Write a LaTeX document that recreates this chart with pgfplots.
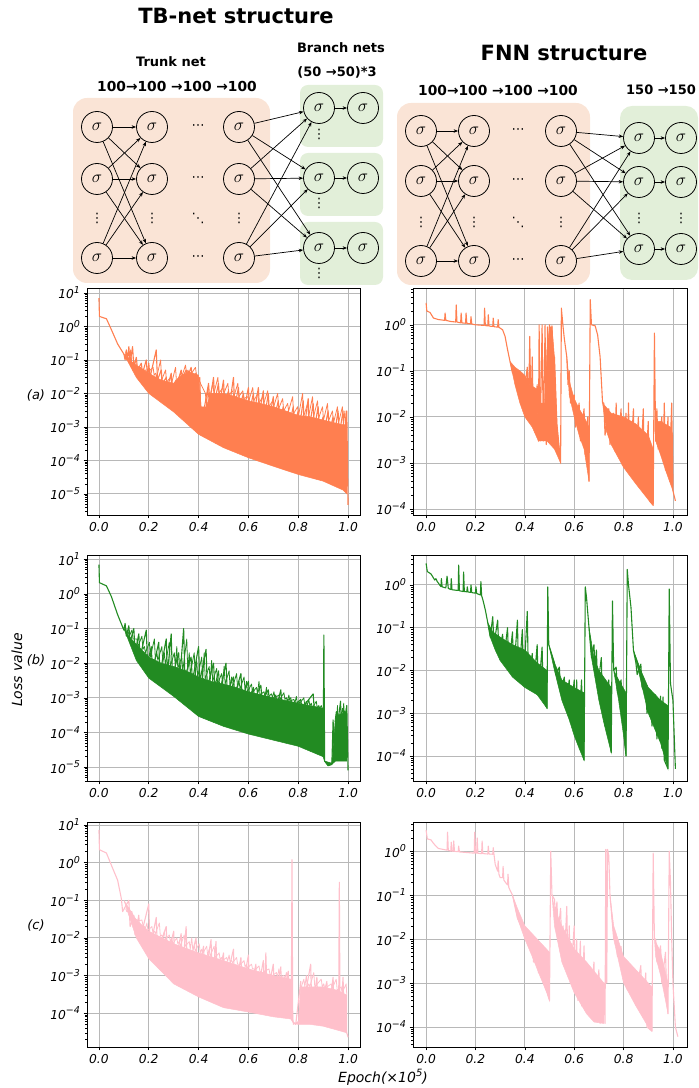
\documentclass[border=0pt]{standalone}
\usepackage{fontspec}
\setmainfont{DejaVu Sans}
\usepackage{pgfplots}
\pgfplotsset{compat=1.18}
\usetikzlibrary{arrows.meta}
\definecolor{cOr}{RGB}{255,127,80}
\definecolor{cGr}{RGB}{34,139,34}
\definecolor{cPk}{RGB}{255,192,203}
\definecolor{boxO}{RGB}{250,228,214}
\definecolor{boxG}{RGB}{226,239,217}
\newcommand{\te}[1]{\textit{10\raisebox{0.42em}{\fontsize{9.5}{9.5}\selectfont\itshape #1}}}
\newcommand{\minL}{2e-6,3e-6,4e-6,5e-6,6e-6,7e-6,8e-6,9e-6,2e-5,3e-5,4e-5,5e-5,6e-5,7e-5,8e-5,9e-5,2e-4,3e-4,4e-4,5e-4,6e-4,7e-4,8e-4,9e-4,0.002,0.003,0.004,0.005,0.006,0.007,0.008,0.009,0.02,0.03,0.04,0.05,0.06,0.07,0.08,0.09,0.2,0.3,0.4,0.5,0.6,0.7,0.8,0.9,2,3,4,5,6,7,8,9,20}
\tikzset{myln/.style={line width=1.1pt, line join=round, mark=none},
  myln2/.style={line width=0.8pt, line join=round, mark=none},
  mybd/.style={line width=0.5pt, mark=none}}
\begin{document}
\begin{tikzpicture}[x=1pt,y=1pt]
\useasboundingbox (0,0) rectangle (699,1088);
% ---------------- diagrams ----------------
\begin{scope}[yshift=1088pt, y=-1pt,
  neu/.style={circle, draw, line width=0.8pt, minimum size=31pt, inner sep=0pt, font=\fontsize{16}{16}\selectfont},
  arr/.style={-{Stealth[length=4.5pt,width=3.5pt]}, line width=0.7pt},
  dt/.style={font=\fontsize{13}{13}\selectfont, inner sep=0pt}]
\fill[boxO, rounded corners=14pt] (73,98) rectangle (270,283);
\fill[boxG, rounded corners=8pt] (300,85) rectangle (383,147);
\fill[boxG, rounded corners=8pt] (300,153) rectangle (383,216);
\fill[boxG, rounded corners=8pt] (300,222) rectangle (383,285);
\fill[boxO, rounded corners=14pt] (397,103) rectangle (590,285);
\fill[boxG, rounded corners=12pt] (620,106) rectangle (698,280);
\node[font=\bfseries\fontsize{21}{21}\selectfont] at (236,16) {TB-net structure};
\node[font=\bfseries\fontsize{13}{13}\selectfont] at (171,62) {Trunk net};
\node[font=\bfseries\fontsize{13.8}{14}\selectfont] at (177,86) {100→100 →100 →100};
\node[font=\bfseries\fontsize{13}{13}\selectfont] at (341,48) {Branch nets};
\node[font=\bfseries\fontsize{13}{13}\selectfont] at (337,72) {(50 →50)*3};
\node[font=\bfseries\fontsize{21}{21}\selectfont] at (564,53) {FNN structure};
\node[font=\bfseries\fontsize{13.8}{14}\selectfont] at (498,90) {100→100 →100 →100};
\node[font=\bfseries\fontsize{13}{13}\selectfont] at (661,90) {150 →150};
% TB trunk
\foreach \c/\x in {1/97,2/152,3/239}{
  \foreach \r/\y in {1/127,2/179,3/258}{\node[neu] (t\c\r) at (\x,\y) {$\sigma$};}
  \node[dt] at (\x,218) {⋮};}
\foreach \y in {127,179,258}{\node[dt] at (198,\y) {⋯};}
\node[dt] at (198,218) {⋱};
\foreach \r/\y in {1/108,2/178,3/248}{
  \node[neu] (b1\r) at (319,\y) {$\sigma$};
  \node[neu] (b2\r) at (363,\y) {$\sigma$};
  \draw[arr] (b1\r) -- (b2\r);}
\foreach \y in {134,203,273}{\node[dt] at (319,\y) {⋮};}
\foreach \i in {1,2,3}{\foreach \j in {1,2,3}{
  \draw[arr] (t1\i) -- (t2\j);
  \draw[arr] (t3\i) -- (b1\j);}}
% FNN
\foreach \c/\x in {1/421,2/474,3/561}{
  \foreach \r/\y in {1/131,2/181,3/261}{\node[neu] (f\c\r) at (\x,\y) {$\sigma$};}
  \node[dt] at (\x,222) {⋮};}
\foreach \y in {131,181,261}{\node[dt] at (518,\y) {⋯};}
\node[dt] at (518,222) {⋱};
\foreach \r/\y in {1/138,2/182,3/249}{
  \node[neu] (g1\r) at (639,\y) {$\sigma$};
  \node[neu] (g2\r) at (681,\y) {$\sigma$};
  \draw[arr] (g1\r) -- (g2\r);}
\node[dt] at (639,218) {⋮};
\node[dt] at (681,218) {⋮};
\foreach \i in {1,2,3}{\foreach \j in {1,2,3}{
  \draw[arr] (f1\i) -- (f2\j);
  \draw[arr] (f3\i) -- (g1\j);}}
\end{scope}
% ---------------- labels ----------------
\node[font=\itshape\fontsize{13}{13}\selectfont] at (36,693) {(a)};
\node[font=\itshape\fontsize{13}{13}\selectfont] at (36,428) {(b)};
\node[font=\itshape\fontsize{13}{13}\selectfont] at (36,163) {(c)};
\node[font=\itshape\fontsize{14}{14}\selectfont, rotate=90] at (17,418) {Loss value};
\node[font=\itshape\fontsize{14}{14}\selectfont] at (383,11) {Epoch(×10\raisebox{0.42em}{\fontsize{10}{10}\selectfont\itshape 5})};
% ================= (a) left =================
\begin{axis}[ymode=log, scale only axis, clip=true,
  axis line style={black, line width=0.8pt},
  grid=major, major grid style={color=black!28, line width=0.8pt},
  tick align=outside, xtick pos=left, ytick pos=left,
  major tick length=3.5pt, minor tick length=2pt,
  tick style={black, line width=0.6pt}, minor ytick/.expand once=\minL,
  xtick={0,0.2,0.4,0.6,0.8,1.0},
  xticklabels={\textit{0.0},\textit{0.2},\textit{0.4},\textit{0.6},\textit{0.8},\textit{1.0}},
  ticklabel style={font=\fontsize{12.3}{12.3}\selectfont},
  xmin=-0.048, xmax=1.048, width=273pt,
  at={(87pt,573pt)}, anchor=south west, height=227pt,
  ymin=2.34e-6, ymax=14.1,
  ytick={1e-5,1e-4,1e-3,1e-2,1e-1,1,10},
  yticklabels={\te{−5},\te{−4},\te{−3},\te{−2},\te{−1},\te{0},\te{1}}]
\addplot[mybd, draw=cOr, fill=cOr] coordinates {(0.1,0.15) (0.12,0.1) (0.15,0.07) (0.2,0.04) (0.25,0.025) (0.3,0.02) (0.32,0.03) (0.36,0.045) (0.4,0.035) (0.41,0.004) (0.43,0.004) (0.45,0.01) (0.5,0.01) (0.55,0.008) (0.6,0.006) (0.65,0.005) (0.7,0.004) (0.75,0.003) (0.8,0.0022) (0.85,0.002) (0.9,0.0016) (0.95,0.0013) (0.995,0.0011) (0.995,1e-5) (0.98,1.3e-5) (0.9,2.4e-5) (0.8,3.8e-5) (0.7,6.7e-5) (0.6,1.2e-4) (0.5,2.4e-4) (0.4,6e-4) (0.3,0.0028) (0.2,0.01) (0.15,0.03) (0.1,0.15)};
\addplot[myln2, color=cOr] coordinates {(0.1075,0.18) (0.1115,0.1) (0.1175,0.12) (0.1215,0.09) (0.1275,0.2) (0.1315,0.08) (0.1475,0.09) (0.1515,0.06) (0.1675,0.06) (0.1715,0.05) (0.1875,0.05) (0.1915,0.04) (0.2175,0.06) (0.2215,0.035) (0.2275,0.04) (0.2315,0.03) (0.2475,0.1) (0.2515,0.025) (0.2675,0.05) (0.2715,0.022) (0.2875,0.03) (0.2915,0.02) (0.3075,0.06) (0.3115,0.02) (0.3275,0.04) (0.3315,0.03) (0.3475,0.07) (0.3515,0.04) (0.3575,0.05) (0.3615,0.04) (0.3675,0.04) (0.3715,0.04) (0.3875,0.06) (0.3915,0.035) (0.4275,0.01) (0.4315,0.004) (0.4375,0.015) (0.4415,0.006) (0.4575,0.02) (0.4615,0.01) (0.4775,0.03) (0.4815,0.01) (0.4975,0.015) (0.5015,0.01) (0.5175,0.02) (0.5215,0.009) (0.5375,0.012) (0.5415,0.008) (0.5575,0.02) (0.5615,0.008) (0.5775,0.012) (0.5815,0.007) (0.5975,0.008) (0.6015,0.006) (0.6175,0.015) (0.6215,0.006) (0.6375,0.01) (0.6415,0.005) (0.6575,0.008) (0.6615,0.005) (0.6775,0.012) (0.6815,0.004) (0.6975,0.006) (0.7015,0.004) (0.7175,0.01) (0.7215,0.0035) (0.7375,0.007) (0.7415,0.003) (0.7575,0.005) (0.7615,0.003) (0.7775,0.008) (0.7815,0.0025) (0.7975,0.004) (0.8015,0.0022) (0.8175,0.01) (0.8215,0.002) (0.8375,0.005) (0.8415,0.002) (0.8575,0.008) (0.8615,0.002) (0.8775,0.006) (0.8815,0.0018) (0.8975,0.004) (0.9015,0.0016) (0.9175,0.005) (0.9215,0.0015) (0.9375,0.003) (0.9415,0.0013) (0.9575,0.004) (0.9615,0.0013) (0.9775,0.004) (0.9815,0.0012) (0.9875,0.003) (0.9915,0.0011)};
\addplot[myln, color=cOr] coordinates {(0,7) (0.002,2) (0.03,1.7) (0.05,0.8) (0.075,0.3) (0.1,0.15) (0.105,0.1) (0.11,0.2) (0.115,0.1) (0.12,0.25) (0.125,0.08) (0.135,0.25) (0.14,0.06) (0.15,0.12) (0.155,0.05) (0.17,0.08) (0.175,0.04) (0.19,0.1) (0.195,0.03) (0.2,0.08) (0.205,0.03) (0.23,0.2) (0.235,0.025) (0.25,0.05) (0.255,0.02) (0.27,0.03) (0.275,0.015) (0.29,0.04) (0.295,0.015) (0.31,0.025) (0.315,0.02) (0.33,0.05) (0.335,0.03) (0.35,0.05) (0.355,0.03) (0.37,0.06) (0.375,0.03) (0.39,0.04) (0.395,0.02) (0.405,0.03) (0.41,0.001) (0.44,0.02) (0.445,0.006) (0.46,0.03) (0.465,0.006) (0.48,0.02) (0.485,0.005) (0.5,0.025) (0.505,0.005) (0.52,0.012) (0.525,0.005) (0.54,0.03) (0.545,0.004) (0.56,0.015) (0.565,0.004) (0.58,0.01) (0.585,0.004) (0.6,0.015) (0.605,0.003) (0.62,0.01) (0.625,0.003) (0.64,0.015) (0.645,0.003) (0.66,0.012) (0.665,0.002) (0.68,0.01) (0.685,0.002) (0.7,0.008) (0.705,0.002) (0.72,0.006) (0.725,0.0015) (0.74,0.004) (0.745,0.0015) (0.76,0.003) (0.765,0.0012) (0.78,0.004) (0.785,0.0012) (0.8,0.003) (0.805,0.001) (0.82,0.006) (0.825,0.001) (0.84,0.007) (0.845,0.001) (0.86,0.005) (0.865,0.0009) (0.88,0.004) (0.885,0.0008) (0.9,0.002) (0.905,0.0008) (0.92,0.003) (0.925,0.0007) (0.94,0.002) (0.945,0.0006) (0.96,0.003) (0.965,0.0006) (0.98,0.003) (0.985,0.0005) (0.995,0.003) (1.0,4.7e-6)};
\end{axis}
% ================= (a) right =================
\begin{axis}[ymode=log, scale only axis, clip=true,
  axis line style={black, line width=0.8pt},
  grid=major, major grid style={color=black!28, line width=0.8pt},
  tick align=outside, xtick pos=left, ytick pos=left,
  major tick length=3.5pt, minor tick length=2pt,
  tick style={black, line width=0.6pt}, minor ytick/.expand once=\minL,
  xtick={0,0.2,0.4,0.6,0.8,1.0},
  xticklabels={\textit{0.0},\textit{0.2},\textit{0.4},\textit{0.6},\textit{0.8},\textit{1.0}},
  ticklabel style={font=\fontsize{12.3}{12.3}\selectfont},
  xmin=-0.053, xmax=1.057, width=274pt,
  ytick={1e-4,1e-3,1e-2,1e-1,1},
  yticklabels={\te{−4},\te{−3},\te{−2},\te{−1},\te{0}},
  at={(413pt,573pt)}, anchor=south west, height=227pt,
  ymin=7.4e-5, ymax=6.3]
\addplot[mybd, draw=cOr, fill=cOr] coordinates {(0.34,0.16) (0.36,0.12) (0.38,0.1) (0.4,0.08) (0.42,0.05) (0.45,0.04) (0.455,0.003) (0.43,0.006) (0.4,0.01) (0.38,0.02) (0.36,0.05) (0.34,0.16)};
\addplot[mybd, draw=cOr, fill=cOr] coordinates {(0.455,0.02) (0.48,0.02) (0.49,0.3) (0.5,0.9) (0.51,0.9) (0.52,0.2) (0.53,0.007) (0.545,0.001) (0.52,0.002) (0.49,0.003) (0.455,0.003) (0.455,0.02)};
\addplot[mybd, draw=cOr, fill=cOr] coordinates {(0.57,0.2) (0.58,0.06) (0.6,0.025) (0.62,0.015) (0.64,0.01) (0.66,0.006) (0.66,4e-4) (0.64,0.002) (0.62,0.004) (0.6,0.01) (0.58,0.03) (0.57,0.2)};
\addplot[mybd, draw=cOr, fill=cOr] coordinates {(0.715,0.02) (0.75,0.012) (0.8,0.01) (0.85,0.007) (0.9,0.004) (0.92,0.002) (0.92,1.2e-4) (0.9,1.6e-4) (0.85,3.5e-4) (0.8,8e-4) (0.75,0.0025) (0.73,0.005) (0.715,0.02)};
\addplot[mybd, draw=cOr, fill=cOr] coordinates {(0.93,0.008) (0.95,0.008) (0.99,0.006) (1.0,0.004) (1.0,2.5e-4) (0.99,3.5e-4) (0.97,7e-4) (0.95,0.0015) (0.93,0.003) (0.93,0.008)};
\addplot[myln, color=cOr] coordinates {(0,3) (0.003,2) (0.016,1.85) (0.03,1.4) (0.05,1.3) (0.075,1.25) (0.077,1.8) (0.08,1.25) (0.1,1.18) (0.12,1.15) (0.122,2.7) (0.125,1.15) (0.14,1.1) (0.142,1.8) (0.145,1.1) (0.16,1.08) (0.162,1.8) (0.165,1.07) (0.18,1.05) (0.182,1.5) (0.185,1.04) (0.2,1.0) (0.235,0.97) (0.237,2.3) (0.24,0.96) (0.25,0.95) (0.252,1.65) (0.255,0.94) (0.27,0.92) (0.272,1.4) (0.275,0.91) (0.29,0.89) (0.292,1.3) (0.295,0.88) (0.31,0.78) (0.32,0.56) (0.33,0.29) (0.34,0.16) (0.345,0.12) (0.35,0.09) (0.36,0.1) (0.365,0.06) (0.37,0.1) (0.375,0.04) (0.39,0.08) (0.395,0.025) (0.41,0.12) (0.415,0.015) (0.42,0.56) (0.425,0.01) (0.43,0.2) (0.435,0.006) (0.45,0.05) (0.455,0.003) (0.458,1.0) (0.462,0.003) (0.47,1.0) (0.475,0.003) (0.482,1.0) (0.487,0.0025) (0.492,0.9) (0.497,0.004) (0.5,1.0) (0.505,0.1) (0.51,0.95) (0.515,0.2) (0.52,0.2) (0.53,0.007) (0.545,0.001) (0.548,2.3) (0.555,0.9) (0.56,0.5) (0.57,0.2) (0.575,0.05) (0.58,0.1) (0.585,0.02) (0.6,0.03) (0.605,0.006) (0.62,0.02) (0.625,0.003) (0.64,0.015) (0.645,0.0015) (0.655,0.01) (0.66,4e-4) (0.665,3.5) (0.67,1.0) (0.685,0.95) (0.695,0.6) (0.705,0.2) (0.715,0.02) (0.72,0.02) (0.725,0.004) (0.74,0.015) (0.745,0.0025) (0.76,0.012) (0.765,0.0018) (0.77,0.02) (0.775,0.0015) (0.79,0.015) (0.795,0.0009) (0.81,0.012) (0.815,0.0007) (0.82,0.02) (0.825,0.0006) (0.84,0.015) (0.845,0.0004) (0.86,0.01) (0.865,0.0003) (0.88,0.015) (0.885,0.00022) (0.9,0.008) (0.905,1.5e-4) (0.92,1.2e-4) (0.925,0.66) (0.93,0.003) (0.935,0.015) (0.94,0.002) (0.955,0.01) (0.96,0.0012) (0.965,0.02) (0.97,7e-4) (0.98,0.01) (0.985,5e-4) (0.995,0.02) (1.0,2.5e-4) (1.01,1.5e-4)};
\end{axis}
% ================= (b) left =================
\begin{axis}[ymode=log, scale only axis, clip=true,
  axis line style={black, line width=0.8pt},
  grid=major, major grid style={color=black!28, line width=0.8pt},
  tick align=outside, xtick pos=left, ytick pos=left,
  major tick length=3.5pt, minor tick length=2pt,
  tick style={black, line width=0.6pt}, minor ytick/.expand once=\minL,
  xtick={0,0.2,0.4,0.6,0.8,1.0},
  xticklabels={\textit{0.0},\textit{0.2},\textit{0.4},\textit{0.6},\textit{0.8},\textit{1.0}},
  ticklabel style={font=\fontsize{12.3}{12.3}\selectfont},
  xmin=-0.048, xmax=1.048, width=273pt,
  at={(87pt,307pt)}, anchor=south west, height=226pt,
  ymin=3.98e-6, ymax=13.2,
  ytick={1e-5,1e-4,1e-3,1e-2,1e-1,1,10},
  yticklabels={\te{−5},\te{−4},\te{−3},\te{−2},\te{−1},\te{0},\te{1}}]
\addplot[mybd, draw=cGr, fill=cGr] coordinates {(0.1,0.1) (0.12,0.06) (0.15,0.035) (0.2,0.015) (0.25,0.01) (0.3,0.008) (0.35,0.006) (0.4,0.004) (0.45,0.003) (0.5,0.0025) (0.55,0.002) (0.6,0.0015) (0.7,0.001) (0.8,7e-4) (0.9,5e-4) (0.905,1.5e-5) (0.935,1.3e-5) (0.95,3e-4) (0.995,4e-4) (0.995,1.5e-5) (0.95,1.5e-5) (0.935,1.2e-5) (0.92,1.1e-5) (0.905,1.5e-5) (0.9,2e-5) (0.8,4e-5) (0.7,6e-5) (0.6,9e-5) (0.5,1.5e-4) (0.4,2.9e-4) (0.3,0.0011) (0.2,0.0037) (0.15,0.012) (0.1,0.1)};
\addplot[myln2, color=cGr] coordinates {(0.1075,0.1) (0.1115,0.07) (0.1175,0.08) (0.1215,0.06) (0.1325,0.09) (0.1365,0.05) (0.1525,0.05) (0.1565,0.03) (0.1725,0.06) (0.1765,0.025) (0.1825,0.03) (0.1865,0.02) (0.2025,0.04) (0.2065,0.015) (0.2225,0.05) (0.2265,0.013) (0.2325,0.02) (0.2365,0.012) (0.2525,0.03) (0.2565,0.01) (0.2625,0.02) (0.2665,0.009) (0.2825,0.04) (0.2865,0.008) (0.3025,0.02) (0.3065,0.008) (0.3125,0.03) (0.3165,0.007) (0.3325,0.015) (0.3365,0.006) (0.3525,0.05) (0.3565,0.006) (0.3625,0.02) (0.3665,0.005) (0.3825,0.02) (0.3865,0.004) (0.3925,0.012) (0.3965,0.004) (0.4125,0.015) (0.4165,0.0035) (0.4225,0.02) (0.4265,0.0035) (0.4425,0.008) (0.4465,0.003) (0.4525,0.012) (0.4565,0.003) (0.4725,0.007) (0.4765,0.0025) (0.4925,0.005) (0.4965,0.0025) (0.5025,0.008) (0.5065,0.0025) (0.5225,0.006) (0.5265,0.002) (0.5325,0.004) (0.5365,0.002) (0.5525,0.005) (0.5565,0.002) (0.5625,0.003) (0.5665,0.0018) (0.5825,0.004) (0.5865,0.0016) (0.5925,0.003) (0.5965,0.0015) (0.6125,0.0025) (0.6165,0.0014) (0.6325,0.002) (0.6365,0.0013) (0.6425,0.003) (0.6465,0.0012) (0.6625,0.0015) (0.6665,0.0011) (0.6725,0.002) (0.6765,0.001) (0.6925,0.0013) (0.6965,0.001) (0.7025,0.0015) (0.7065,0.001) (0.7225,0.0012) (0.7265,9e-4) (0.7425,0.0014) (0.7465,9e-4) (0.7525,0.001) (0.7565,8e-4) (0.7625,0.0012) (0.7665,8e-4) (0.7825,9e-4) (0.7865,7e-4) (0.7925,0.0011) (0.7965,7e-4) (0.8025,8e-4) (0.8065,7e-4) (0.8225,0.001) (0.8265,6e-4) (0.8325,8e-4) (0.8365,6e-4) (0.8425,9e-4) (0.8465,6e-4) (0.8525,7e-4) (0.8565,5e-4) (0.8725,8e-4) (0.8765,5e-4) (0.8825,6e-4) (0.8865,5e-4) (0.8925,6e-4) (0.8965,5e-4)};
\addplot[myln2, color=cGr] coordinates {(0.9475,2e-4) (0.9525,4e-4) (0.9555,2e-4) (0.9575,6e-4) (0.9605,2e-4) (0.9625,3e-4) (0.9655,2e-4) (0.9775,5e-4) (0.9805,3e-4) (0.9825,7e-4) (0.9855,3e-4) (0.9875,4e-4) (0.9905,3e-4) (0.9925,5e-4)};
\addplot[myln, color=cGr] coordinates {(0,7) (0.002,2.1) (0.03,1.7) (0.05,0.83) (0.075,0.25) (0.1,0.09) (0.105,0.14) (0.11,0.06) (0.12,0.12) (0.125,0.04) (0.14,0.1) (0.145,0.02) (0.16,0.07) (0.165,0.015) (0.19,0.09) (0.195,0.01) (0.21,0.03) (0.215,0.006) (0.24,0.04) (0.245,0.005) (0.27,0.05) (0.275,0.005) (0.29,0.07) (0.295,0.004) (0.32,0.02) (0.325,0.004) (0.34,0.1) (0.345,0.004) (0.37,0.015) (0.375,0.003) (0.4,0.03) (0.405,0.003) (0.43,0.025) (0.435,0.002) (0.46,0.01) (0.465,0.002) (0.48,0.006) (0.485,0.0015) (0.51,0.01) (0.515,0.0015) (0.54,0.004) (0.545,0.0012) (0.57,0.005) (0.575,0.001) (0.6,0.003) (0.605,0.001) (0.62,0.002) (0.625,0.0009) (0.65,0.0023) (0.655,0.0008) (0.68,0.0017) (0.685,0.0007) (0.71,0.0012) (0.715,0.0006) (0.73,0.0017) (0.735,0.0006) (0.77,0.001) (0.775,0.0005) (0.81,9e-4) (0.815,0.0005) (0.86,0.0013) (0.865,0.0004) (0.9,2e-5) (0.903,0.065) (0.906,1.5e-5) (0.92,1.1e-5) (0.935,1.2e-5) (0.94,2.3e-4) (0.945,3e-5) (0.97,8e-4) (0.975,3e-5) (0.995,6e-4) (1.0,8e-6)};
\end{axis}
% ================= (b) right =================
\begin{axis}[ymode=log, scale only axis, clip=true,
  axis line style={black, line width=0.8pt},
  grid=major, major grid style={color=black!28, line width=0.8pt},
  tick align=outside, xtick pos=left, ytick pos=left,
  major tick length=3.5pt, minor tick length=2pt,
  tick style={black, line width=0.6pt}, minor ytick/.expand once=\minL,
  xtick={0,0.2,0.4,0.6,0.8,1.0},
  xticklabels={\textit{0.0},\textit{0.2},\textit{0.4},\textit{0.6},\textit{0.8},\textit{1.0}},
  ticklabel style={font=\fontsize{12.3}{12.3}\selectfont},
  xmin=-0.053, xmax=1.057, width=274pt,
  ytick={1e-4,1e-3,1e-2,1e-1,1},
  yticklabels={\te{−4},\te{−3},\te{−2},\te{−1},\te{0}},
  at={(413pt,307pt)}, anchor=south west, height=226pt,
  ymin=2.6e-5, ymax=5.0]
\addplot[mybd, draw=cGr, fill=cGr] coordinates {(0.25,0.13) (0.27,0.08) (0.3,0.06) (0.35,0.04) (0.4,0.03) (0.45,0.015) (0.49,0.01) (0.49,0.0013) (0.45,0.0027) (0.4,0.004) (0.35,0.007) (0.3,0.017) (0.28,0.03) (0.26,0.06) (0.25,0.13)};
\addplot[mybd, draw=cGr, fill=cGr] coordinates {(0.497,0.04) (0.52,0.015) (0.55,0.006) (0.6,0.004) (0.64,0.003) (0.64,8e-5) (0.62,1.5e-4) (0.6,3e-4) (0.58,7e-4) (0.55,0.002) (0.52,0.01) (0.497,0.04)};
\addplot[mybd, draw=cGr, fill=cGr] coordinates {(0.66,0.1) (0.68,0.02) (0.7,0.01) (0.75,0.004) (0.75,1.2e-4) (0.72,6e-4) (0.7,0.002) (0.67,0.02) (0.66,0.1)};
\addplot[mybd, draw=cGr, fill=cGr] coordinates {(0.76,0.01) (0.78,0.006) (0.81,0.003) (0.81,1e-4) (0.8,3e-4) (0.78,0.002) (0.76,0.01)};
\addplot[mybd, draw=cGr, fill=cGr] coordinates {(0.84,0.03) (0.87,0.01) (0.9,0.004) (0.95,0.002) (0.98,0.0015) (0.98,5e-5) (0.97,8e-5) (0.95,2e-4) (0.9,0.001) (0.86,0.01) (0.84,0.03)};
\addplot[myln, color=cGr] coordinates {(0,3.2) (0.005,2.05) (0.02,1.8) (0.035,1.3) (0.04,1.4) (0.045,1.2) (0.05,1.1) (0.06,0.91) (0.062,1.4) (0.065,0.9) (0.08,0.85) (0.085,1.6) (0.09,0.83) (0.1,0.78) (0.102,1.4) (0.105,0.77) (0.13,0.74) (0.132,2.9) (0.135,0.73) (0.15,0.7) (0.152,2.0) (0.155,0.7) (0.165,0.69) (0.167,0.9) (0.17,0.68) (0.18,0.67) (0.182,1.0) (0.185,0.66) (0.2,0.64) (0.202,0.9) (0.205,0.63) (0.22,0.58) (0.222,1.2) (0.225,0.56) (0.23,0.45) (0.24,0.26) (0.25,0.13) (0.26,0.06) (0.27,0.18) (0.275,0.04) (0.29,0.15) (0.295,0.025) (0.31,0.07) (0.315,0.018) (0.33,0.1) (0.335,0.012) (0.35,0.08) (0.355,0.008) (0.37,0.15) (0.375,0.006) (0.39,0.09) (0.395,0.005) (0.41,0.24) (0.415,0.004) (0.43,0.025) (0.435,0.0035) (0.45,0.04) (0.455,0.0027) (0.47,0.035) (0.475,0.002) (0.49,0.0013) (0.493,0.9) (0.497,0.04) (0.52,0.015) (0.525,0.008) (0.54,0.012) (0.545,0.003) (0.56,0.007) (0.565,0.0015) (0.58,0.006) (0.585,0.0006) (0.6,0.006) (0.605,0.0003) (0.61,0.006) (0.615,0.0002) (0.63,0.006) (0.635,0.0001) (0.64,8e-5) (0.645,0.9) (0.65,0.5) (0.66,0.1) (0.67,0.02) (0.68,0.04) (0.685,0.01) (0.69,0.03) (0.695,0.004) (0.71,0.02) (0.715,0.001) (0.72,0.004) (0.725,0.0005) (0.74,0.006) (0.745,0.0002) (0.75,1.2e-4) (0.755,0.42) (0.76,0.01) (0.77,0.012) (0.775,0.003) (0.79,0.006) (0.795,0.001) (0.8,0.003) (0.805,2e-4) (0.81,1e-4) (0.815,2.3) (0.82,1.0) (0.83,0.3) (0.84,0.03) (0.85,0.015) (0.855,0.008) (0.87,0.014) (0.875,0.004) (0.89,0.003) (0.895,0.001) (0.91,0.0025) (0.915,5e-4) (0.93,0.0027) (0.935,2.5e-4) (0.95,0.0025) (0.955,1.5e-4) (0.96,0.0024) (0.965,8e-5) (0.98,5e-5) (0.985,0.8) (0.99,0.005) (1.0,0.002) (1.01,5e-5)};
\end{axis}
% ================= (c) left =================
\begin{axis}[ymode=log, scale only axis, clip=true,
  axis line style={black, line width=0.8pt},
  grid=major, major grid style={color=black!28, line width=0.8pt},
  tick align=outside, xtick pos=left, ytick pos=left,
  major tick length=3.5pt, minor tick length=2pt,
  tick style={black, line width=0.6pt}, minor ytick/.expand once=\minL,
  xtick={0,0.2,0.4,0.6,0.8,1.0},
  xticklabels={\textit{0.0},\textit{0.2},\textit{0.4},\textit{0.6},\textit{0.8},\textit{1.0}},
  ticklabel style={font=\fontsize{12.3}{12.3}\selectfont},
  xmin=-0.048, xmax=1.048, width=273pt,
  at={(87pt,41pt)}, anchor=south west, height=225pt,
  ymin=1.26e-5, ymax=12,
  ytick={1e-4,1e-3,1e-2,1e-1,1,10},
  yticklabels={\te{−4},\te{−3},\te{−2},\te{−1},\te{0},\te{1}}]
\addplot[mybd, draw=cPk, fill=cPk] coordinates {(0.1,0.1) (0.15,0.03) (0.2,0.015) (0.3,0.007) (0.4,0.004) (0.5,0.0025) (0.6,0.0015) (0.7,0.001) (0.77,8e-4) (0.78,5e-5) (0.8,6e-5) (0.81,5e-4) (0.9,5e-4) (0.96,4e-4) (0.995,3e-4) (0.995,3e-5) (0.96,3.5e-5) (0.9,4.5e-5) (0.85,5e-5) (0.8,5e-5) (0.78,5.5e-5) (0.77,7e-5) (0.7,8e-5) (0.6,1.07e-4) (0.5,1.4e-4) (0.4,2.7e-4) (0.3,6e-4) (0.2,0.0028) (0.15,0.01) (0.1,0.1)};
\addplot[myln2, color=cPk] coordinates {(0.1075,0.06) (0.1115,0.05) (0.1325,0.05) (0.1365,0.035) (0.1525,0.03) (0.1565,0.028) (0.1725,0.03) (0.1765,0.022) (0.1825,0.02) (0.1865,0.018) (0.1925,0.025) (0.1965,0.016) (0.2125,0.02) (0.2165,0.014) (0.2225,0.015) (0.2265,0.013) (0.2425,0.025) (0.2465,0.011) (0.2525,0.012) (0.2565,0.01) (0.2625,0.015) (0.2665,0.009) (0.2825,0.012) (0.2865,0.008) (0.2925,0.01) (0.2965,0.007) (0.3125,0.01) (0.3165,0.007) (0.3225,0.008) (0.3265,0.006) (0.3425,0.012) (0.3465,0.006) (0.3625,0.008) (0.3665,0.005) (0.3725,0.01) (0.3765,0.005) (0.3825,0.006) (0.3865,0.0045) (0.4025,0.007) (0.4065,0.004) (0.4125,0.005) (0.4165,0.0038) (0.4325,0.006) (0.4365,0.0035) (0.4425,0.005) (0.4465,0.0033) (0.4625,0.006) (0.4665,0.003) (0.4825,0.004) (0.4865,0.0027) (0.4925,0.003) (0.4965,0.0025) (0.5125,0.003) (0.5165,0.0024) (0.5225,0.0035) (0.5265,0.0023) (0.5325,0.0025) (0.5365,0.0022) (0.5525,0.003) (0.5565,0.002) (0.5625,0.002) (0.5665,0.0019) (0.5825,0.0025) (0.5865,0.0017) (0.5925,0.002) (0.5965,0.0016) (0.6125,0.002) (0.6165,0.0015) (0.6225,0.0015) (0.6265,0.0014) (0.6425,0.0018) (0.6465,0.0013) (0.6525,0.0012) (0.6565,0.0012) (0.6825,0.0015) (0.6865,0.0011) (0.6925,0.001) (0.6965,0.001) (0.7125,0.0012) (0.7165,9e-4) (0.7225,0.0015) (0.7265,9e-4) (0.7425,0.001) (0.7465,8e-4) (0.7525,0.0012) (0.7565,8e-4)};
\addplot[myln2, color=cPk] coordinates {(0.8125,5e-4) (0.8225,8e-4) (0.8265,5e-4) (0.8325,0.001) (0.8365,5e-4) (0.8425,6e-4) (0.8465,5e-4) (0.8625,0.0012) (0.8665,5e-4) (0.8925,8e-4) (0.8965,5e-4) (0.9025,6e-4) (0.9065,4.5e-4) (0.9325,6e-4) (0.9365,4.5e-4) (0.9525,8e-4) (0.9565,4e-4) (0.9725,5e-4) (0.9765,3.5e-4) (0.9925,6e-4) (0.995,3e-4)};
\addplot[myln, color=cPk] coordinates {(0,7.4) (0.002,2.2) (0.03,1.8) (0.05,0.85) (0.075,0.34) (0.09,0.11) (0.095,0.05) (0.12,0.1) (0.125,0.02) (0.14,0.04) (0.145,0.012) (0.16,0.04) (0.165,0.009) (0.2,0.08) (0.205,0.005) (0.23,0.035) (0.235,0.004) (0.27,0.02) (0.275,0.003) (0.3,0.015) (0.305,0.002) (0.33,0.013) (0.335,0.0015) (0.35,0.02) (0.355,0.0012) (0.39,0.01) (0.395,0.001) (0.42,0.006) (0.425,0.0008) (0.45,0.009) (0.455,0.0007) (0.47,0.008) (0.475,0.0006) (0.5,0.004) (0.505,0.0005) (0.54,0.005) (0.545,0.0004) (0.57,0.003) (0.575,0.0004) (0.6,0.0035) (0.605,0.0003) (0.63,0.002) (0.635,0.0003) (0.66,0.0025) (0.665,0.0003) (0.67,0.004) (0.675,0.0003) (0.7,0.002) (0.705,0.0002) (0.73,0.0017) (0.735,0.0002) (0.76,0.0013) (0.765,0.0002) (0.772,7e-5) (0.775,1.2) (0.778,6e-5) (0.79,5e-5) (0.81,7e-4) (0.815,1e-4) (0.85,0.002) (0.855,1e-4) (0.875,9e-4) (0.88,8e-5) (0.915,7e-4) (0.92,8e-5) (0.94,9e-4) (0.945,7e-5) (0.962,4e-5) (0.965,0.3) (0.968,5e-5) (0.98,9e-4) (0.985,5e-5) (1.0,2.3e-5)};
\end{axis}
% ================= (c) right =================
\begin{axis}[ymode=log, scale only axis, clip=true,
  axis line style={black, line width=0.8pt},
  grid=major, major grid style={color=black!28, line width=0.8pt},
  tick align=outside, xtick pos=left, ytick pos=left,
  major tick length=3.5pt, minor tick length=2pt,
  tick style={black, line width=0.6pt}, minor ytick/.expand once=\minL,
  xtick={0,0.2,0.4,0.6,0.8,1.0},
  xticklabels={\textit{0.0},\textit{0.2},\textit{0.4},\textit{0.6},\textit{0.8},\textit{1.0}},
  ticklabel style={font=\fontsize{12.3}{12.3}\selectfont},
  xmin=-0.053, xmax=1.057, width=274pt,
  ytick={1e-4,1e-3,1e-2,1e-1,1},
  yticklabels={\te{−4},\te{−3},\te{−2},\te{−1},\te{0}},
  at={(413pt,41pt)}, anchor=south west, height=225pt,
  ymin=3.5e-5, ymax=4.6]
\addplot[mybd, draw=cPk, fill=cPk] coordinates {(0.35,0.1) (0.37,0.05) (0.4,0.02) (0.45,0.01) (0.5,0.005) (0.5,4e-4) (0.49,6e-4) (0.46,0.0015) (0.43,0.004) (0.4,0.01) (0.37,0.03) (0.35,0.1)};
\addplot[mybd, draw=cPk, fill=cPk] coordinates {(0.51,0.1) (0.52,0.05) (0.55,0.02) (0.6,0.006) (0.65,0.003) (0.72,0.001) (0.72,1.2e-4) (0.68,1.3e-4) (0.65,2e-4) (0.6,6e-4) (0.55,0.003) (0.52,0.02) (0.51,0.1)};
\addplot[mybd, draw=cPk, fill=cPk] coordinates {(0.745,0.1) (0.76,0.02) (0.8,0.004) (0.85,0.002) (0.9,0.001) (0.915,8e-4) (0.915,8e-5) (0.9,1e-4) (0.85,3e-4) (0.8,0.001) (0.76,0.01) (0.745,0.1)};
\addplot[mybd, draw=cPk, fill=cPk] coordinates {(0.925,0.01) (0.95,0.005) (0.98,0.001) (0.98,2e-4) (0.97,4e-4) (0.95,0.0015) (0.93,0.004) (0.925,0.01)};
\addplot[myln, color=cPk] coordinates {(0,3.0) (0.005,1.9) (0.02,1.8) (0.03,1.5) (0.04,1.3) (0.05,1.15) (0.085,1.05) (0.087,2.7) (0.09,1.04) (0.1,1.0) (0.102,1.6) (0.105,1.0) (0.11,0.99) (0.112,1.7) (0.115,0.99) (0.13,0.97) (0.132,1.3) (0.135,0.96) (0.195,0.9) (0.197,2.7) (0.2,0.9) (0.205,0.9) (0.207,2.0) (0.21,0.89) (0.225,0.88) (0.227,1.7) (0.23,0.88) (0.25,0.86) (0.252,1.3) (0.255,0.86) (0.27,0.85) (0.272,1.2) (0.275,0.85) (0.28,0.5) (0.29,0.35) (0.292,0.6) (0.295,0.3) (0.3,0.25) (0.31,0.25) (0.312,0.45) (0.315,0.22) (0.32,0.2) (0.33,0.17) (0.332,0.3) (0.335,0.15) (0.34,0.13) (0.35,0.1) (0.37,0.03) (0.395,0.015) (0.4,0.01) (0.41,0.015) (0.415,0.007) (0.43,0.011) (0.435,0.003) (0.45,0.006) (0.455,0.0017) (0.47,0.004) (0.475,0.001) (0.49,6e-4) (0.5,4e-4) (0.505,1.0) (0.51,0.1) (0.52,0.08) (0.525,0.03) (0.53,0.07) (0.535,0.015) (0.545,0.05) (0.55,0.005) (0.555,0.02) (0.56,0.003) (0.57,0.055) (0.575,0.0015) (0.58,0.02) (0.585,0.001) (0.6,0.02) (0.605,6e-4) (0.61,0.01) (0.615,4e-4) (0.625,0.009) (0.63,3e-4) (0.64,0.007) (0.645,2.5e-4) (0.66,0.002) (0.665,1.8e-4) (0.68,0.003) (0.685,1.3e-4) (0.7,0.002) (0.705,1.2e-4) (0.72,0.001) (0.725,1.2e-4) (0.728,1.1) (0.732,1e-3) (0.735,1.1) (0.74,0.8) (0.745,0.1) (0.76,0.01) (0.77,0.01) (0.775,0.004) (0.79,0.0067) (0.795,0.002) (0.81,0.003) (0.815,7e-4) (0.84,0.002) (0.845,4e-4) (0.87,0.0025) (0.875,2e-4) (0.89,0.0017) (0.895,1e-4) (0.915,8e-5) (0.92,0.9) (0.925,0.01) (0.93,0.01) (0.935,0.003) (0.95,0.007) (0.955,0.001) (0.97,0.005) (0.975,4e-4) (0.98,2e-4) (0.985,1.0) (0.99,0.2) (0.995,0.01) (1.0,0.001) (1.01,1e-4) (1.02,6e-5)};
\end{axis}
\end{tikzpicture}
\end{document}
